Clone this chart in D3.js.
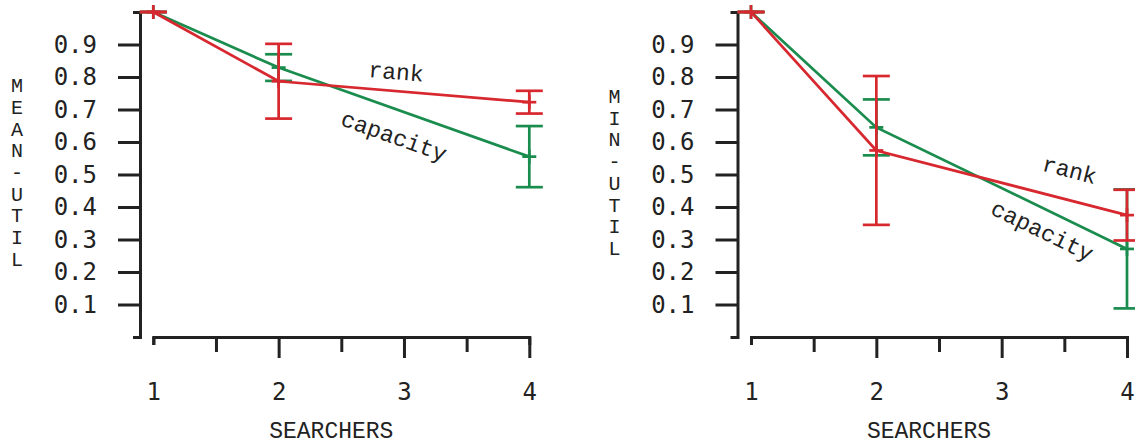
<!DOCTYPE html>
<html>
<head>
<meta charset="utf-8">
<script src="https://cdnjs.cloudflare.com/ajax/libs/d3/7.8.5/d3.min.js"></script>
<style>
body { margin: 0; background: #fff; }
.axis path, .axis line { stroke: #222; stroke-width: 3px; fill: none; }
.axis text { font: 24px "DejaVu Sans Mono", monospace; fill: #222; }
.lab { font: 23px "Liberation Mono", "Courier New", monospace; fill: #222; }
.vlab { font: 20px "Liberation Mono", "Courier New", monospace; fill: #222; }
</style>
</head>
<body>
<script>
// values
var searchers = [1, 2, 4];
var meanCapacity = [1.0, 0.829, 0.555], meanCapacityErr = [0, 0.041, 0.094];
var meanRank = [1.0, 0.787, 0.7225], meanRankErr = [0, 0.115, 0.035];
var minCapacity = [1.0, 0.645, 0.271], minCapacityErr = [0, 0.086, 0.183];
var minRank = [1.0, 0.574, 0.375], minRankErr = [0, 0.229, 0.078];

var yTicks = [0.1, 0.2, 0.3, 0.4, 0.5, 0.6, 0.7, 0.8, 0.9];
var xTicks = [1, 2, 3, 4];
var xMinor = [1.5, 2.5, 3.5];

var green = "#1a8c4e", red = "#d7282f";

var width = 1135, height = 444;
var svg = d3.select("body").append("svg")
  .attr("width", width)
  .attr("height", height);

var y = d3.scaleLinear().domain([0, 1]).range([337, 12]);

var panels = [
  { axisX: 140, x0: 153.3, ylabel: "MEAN-UTIL",
    series: [
      { name: "capacity", v: meanCapacity, e: meanCapacityErr, color: green, lx: 2.919, ly: 0.616 },
      { name: "rank", v: meanRank, e: meanRankErr, color: red, lx: 2.937, ly: 0.814 }
    ] },
  { axisX: 737.5, x0: 751, ylabel: "MIN-UTIL",
    series: [
      { name: "capacity", v: minCapacity, e: minCapacityErr, color: green, lx: 3.322, ly: 0.325 },
      { name: "rank", v: minRank, e: minRankErr, color: red, lx: 3.541, ly: 0.512 }
    ] }
];

panels.forEach(function(p) {
  var x = d3.scaleLinear().domain([1, 4]).range([p.x0, p.x0 + 376]);
  var g = svg.append("g");

  // y axis
  g.append("g")
    .attr("class", "axis")
    .attr("transform", "translate(" + p.axisX + ",0)")
    .call(d3.axisLeft(y).tickValues(yTicks).tickSize(22).tickSizeOuter(7)
      .tickPadding(21).tickFormat(d3.format(".1f")));

  // x axis, minor ticks first
  g.append("g")
    .attr("class", "axis")
    .attr("transform", "translate(0,337)")
    .call(d3.axisBottom(x).tickValues(xMinor).tickSize(15).tickFormat(""))
    .select(".domain").remove();

  var xa = g.append("g")
    .attr("class", "axis")
    .attr("transform", "translate(0,337)")
    .call(d3.axisBottom(x).tickValues(xTicks).tickSize(21).tickSizeOuter(8)
      .tickPadding(25).tickFormat(d3.format("d")));
  xa.selectAll(".tick line").filter(function(d) { return d === 1; }).attr("y2", 8);

  // axis titles
  var letters = p.ylabel.split("");
  g.selectAll(".vlab").data(letters).enter().append("text")
    .attr("class", "vlab")
    .attr("x", p.axisX - 123)
    .attr("y", function(d, i) { return 173 + (i - (letters.length - 1) / 2) * 21.7; })
    .attr("dy", "0.3em")
    .attr("text-anchor", "middle")
    .text(function(d) { return d; });

  g.append("text")
    .attr("class", "lab")
    .attr("x", (x(1) + x(4)) / 2 - 10)
    .attr("y", 438)
    .attr("text-anchor", "middle")
    .text("SEARCHERS");

  var line = d3.line()
    .x(function(d) { return x(d[0]); })
    .y(function(d) { return y(d[1]); });

  p.series.forEach(function(s) {
    var pts = searchers.map(function(n, i) { return [n, s.v[i], s.e[i]]; });
    var sg = g.append("g").attr("stroke", s.color).attr("stroke-width", 2.7).attr("fill", "none");

    sg.append("path").attr("d", line(pts));

    // error bars
    pts.forEach(function(d) {
      var cx = x(d[0]), hi = y(d[1] + d[2]), lo = y(d[1] - d[2]), m = y(d[1]);
      sg.append("line").attr("x1", cx).attr("x2", cx).attr("y1", hi).attr("y2", lo);
      sg.append("line").attr("x1", cx - 13.5).attr("x2", cx + 13.5).attr("y1", hi).attr("y2", hi);
      sg.append("line").attr("x1", cx - 13.5).attr("x2", cx + 13.5).attr("y1", lo).attr("y2", lo);
      // plus marker
      sg.append("line").attr("x1", cx - 7).attr("x2", cx + 7).attr("y1", m).attr("y2", m);
      sg.append("line").attr("x1", cx).attr("x2", cx).attr("y1", m - 7).attr("y2", m + 7);
    });

    // label along the last segment
    var a = pts[1], b = pts[2];
    var ang = Math.atan2(y(b[1]) - y(a[1]), x(b[0]) - x(a[0])) * 180 / Math.PI;
    g.append("text")
      .attr("class", "lab")
      .attr("transform", "translate(" + x(s.lx) + "," + y(s.ly) + ") rotate(" + ang + ")")
      .attr("dy", "0.3em")
      .attr("text-anchor", "middle")
      .text(s.name);
  });
});
</script>
</body>
</html>
